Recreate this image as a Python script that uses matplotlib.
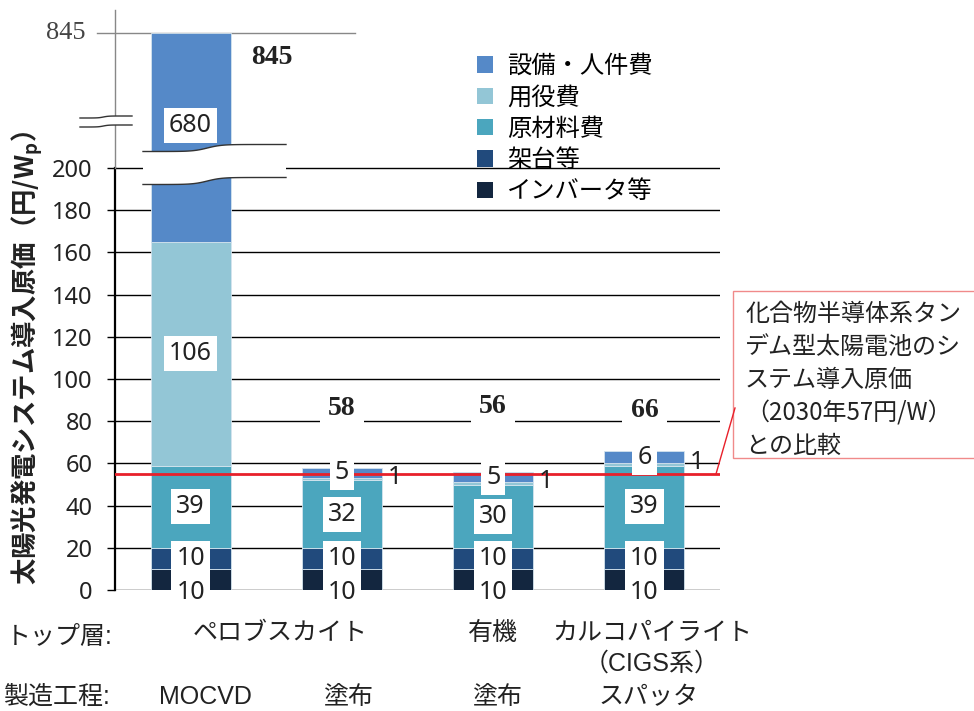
import matplotlib.pyplot as plt
import numpy as np
from matplotlib.patches import Patch, Rectangle
from matplotlib.lines import Line2D
import matplotlib.transforms as mtransforms

plt.rcParams['font.family'] = ['Noto Sans CJK JP', 'DejaVu Sans']

# data
bars = ['MOCVD', '塗布', '塗布', 'スパッタ']
inverter = [10, 10, 10, 10]      # インバータ等
mount = [10, 10, 10, 10]         # 架台等
material = [39, 32, 30, 39]      # 原材料費
utility = [106, 1, 1, 1]         # 用役費
equipment = [680, 5, 5, 6]       # 設備・人件費
totals = [845, 58, 56, 66]
target = 55                      # 2030年目標（図上の赤線）
top_layer = ['ペロブスカイト', '有機', 'カルコパイライト\n（CIGS系）']
series_names = ['インバータ等', '架台等', '原材料費', '用役費', '設備・人件費']
colors = ['#13263f', '#214a7c', '#4ba6be', '#93c6d6', '#5589c8']

W, H = 974, 711
def fx(px):
    return px / W
def fy(py):
    return 1 - py / H

# broken y axis: linear up to 200, compressed above
K = 0.0992
def fwd(v):
    v = np.asarray(v, dtype=float)
    return np.where(v <= 200, v, 200 + (v - 200) * K)
def inv(t):
    t = np.asarray(t, dtype=float)
    return np.where(t <= 200, t, 200 + (t - 200) / K)

fig = plt.figure(figsize=(9.74, 7.11), dpi=100)
ax = fig.add_axes([fx(115), fy(590), fx(720) - fx(115), fy(10) - fy(590)])
ax.set_yscale('function', functions=(fwd, inv))
ax.set_xlim(-0.5, 3.5)
ax.set_ylim(0, 955)

x = np.arange(len(bars))
width = 0.53
stack = [inverter, mount, material, utility, equipment]
bottom = np.zeros(len(bars))
for vals, c in zip(stack, colors):
    ax.bar(x, vals, width, bottom=bottom, color=c, edgecolor='#d4e4ee', linewidth=0.6, zorder=2)
    bottom = bottom + np.array(vals)

# gridlines 0-200
ax.set_yticks(np.arange(0, 201, 20))
ax.yaxis.grid(True, color='black', linewidth=1.0, zorder=1)
ax.set_axisbelow(True)
ax.tick_params(axis='y', length=6, width=1, color='black', pad=10, labelsize=17)
for lb in ax.get_yticklabels():
    lb.set_fontfamily(['Noto Sans', 'DejaVu Sans'])
    lb.set_color('#222222')
ax.set_xticks([])
for s in ['top', 'right', 'bottom']:
    ax.spines[s].set_visible(False)
ax.spines['left'].set_bounds(0, 200)
ax.spines['left'].set_linewidth(1.6)

# upper (broken) part of axis
ax.plot([-0.5, -0.5], [200, 955], color='#888888', lw=1, clip_on=False, zorder=3)
trans_h = mtransforms.blended_transform_factory(ax.transAxes, ax.transData)
ax.plot([-0.03, 0.397], [845, 845], color='#888888', lw=1, transform=trans_h, clip_on=False, zorder=1)
ax.text(-0.048, 845, '845', transform=trans_h, ha='right', va='center', fontsize=19,
        family=['Liberation Serif'], color='#444444')

# target line
ax.axhline(target, color='#e8202a', lw=2, zorder=4)

# segment labels
lab_font = ['Noto Sans', 'DejaVu Sans']
box = dict(boxstyle='square,pad=0.2', facecolor='white', edgecolor='none')
for i in range(len(bars)):
    b = 0
    for j, vals in enumerate(stack):
        v = vals[i]
        if j == 0:
            y = -1
        elif j == 4 and i == 0:
            y = 405
        else:
            y = b + v / 2
        if j == 3 and i > 0:
            ax.text(x[i] + 0.35, y + 1, str(v), ha='center', va='center', fontsize=18,
                    family=lab_font, color='#222222', zorder=5)
        else:
            ax.text(x[i], y, str(v), ha='center', va='center', fontsize=18,
                    family=lab_font, color='#222222', bbox=box, zorder=5)
        b += v

# totals
tot_y = [730, 86, 87, 85]
tot_x = [x[0] + 0.54, x[1], x[2], x[3]]
for tx, ty, t in zip(tot_x, tot_y, totals):
    ax.text(tx, ty, str(t), ha='center', va='center', fontsize=20, fontweight='bold',
            family=['Liberation Serif'], color='#222222', zorder=5,
            bbox=dict(boxstyle='square,pad=0.3', facecolor='white', edgecolor='none'))

# break marks
def wave(x0, x1, base, amp, n=80):
    xs = np.linspace(x0, x1, n)
    t = (xs - x0) / (x1 - x0)
    return xs, base + amp * np.tanh((t - 0.45) * 10)

def band(x0, x1, top, bot, amp):
    xs, yt = wave(x0, x1, top, amp)
    _, yb = wave(x0, x1, bot, amp)
    X = [fx(v) for v in xs]
    poly_x = np.concatenate([X, X[::-1]])
    poly_y = np.concatenate([[fy(v) for v in yt], [fy(v) for v in yb][::-1]])
    fig.patches.append(plt.Polygon(np.column_stack([poly_x, poly_y]), closed=True,
                                   facecolor='white', edgecolor='none',
                                   transform=fig.transFigure, zorder=6))
    for yy in (yt, yb):
        fig.lines.append(Line2D(X, [fy(v) for v in yy], color='#333333', lw=1,
                                transform=fig.transFigure, zorder=7))

band(143, 286, 148, 181, -3.5)
band(80, 132, 117, 126, -1)

# legend
handles = [Patch(facecolor=c) for c in colors][::-1]
fig.legend(handles, series_names[::-1], loc='upper left', bbox_to_anchor=(fx(477), fy(53)),
           frameon=False, fontsize=17.5, handlelength=0.65, handleheight=0.65,
           handletextpad=0.6, labelspacing=0.22, borderpad=0, borderaxespad=0)

# callout
fig.patches.append(Rectangle((fx(733), fy(458)), fx(260), fy(291) - fy(458),
                             transform=fig.transFigure, facecolor='white',
                             edgecolor='#f08a8a', lw=1))
fig.lines.append(Line2D([fx(716), fx(735)], [fy(474), fy(408)], color='#e8202a', lw=1,
                        transform=fig.transFigure))
note = ['化合物半導体系タン', 'デム型太陽電池のシ', 'ステム導入原価', '（2030年57円/W）', 'との比較']
for k, line in enumerate(note):
    fig.text(fx(745), fy(314 + 33 * k), line, ha='left', va='center', fontsize=17.3,
             color='#222222')

# y label
fig.text(fx(27), fy(358), '太陽光発電システム導入原価（円/W$_\\mathregular{p}$）',
         rotation=90, ha='center', va='center', fontsize=19, fontweight='bold',
         color='#222222')

# bottom category rows
bfont = ['Liberation Sans', 'Noto Sans CJK JP']
trans_b = mtransforms.blended_transform_factory(ax.transData, fig.transFigure)
fig.text(fx(6), fy(637), 'トップ層:', ha='left', va='center', fontsize=18,
         family=bfont, color='#222222')
fig.text(fx(3), fy(697), '製造工程:', ha='left', va='center', fontsize=18,
         family=bfont, color='#222222')
for xi, lab in zip([0.59, 2.0, 3.05], top_layer):
    parts = lab.split('\n')
    fig.text(xi, fy(633), parts[0], transform=trans_b, ha='center', va='center',
             fontsize=18, family=bfont, color='#222222')
    if len(parts) > 1:
        fig.text(xi, fy(664), parts[1], transform=trans_b, ha='center',
                 va='center', fontsize=18, family=bfont, color='#222222')
for i, lab in enumerate(bars):
    off = [0.1, 0.05, 0.03, 0.03][i]
    fig.text(x[i] + off, fy(697), lab, transform=trans_b, ha='center', va='center',
             fontsize=18, family=bfont, color='#222222')

fig.savefig('out.png', dpi=100)
